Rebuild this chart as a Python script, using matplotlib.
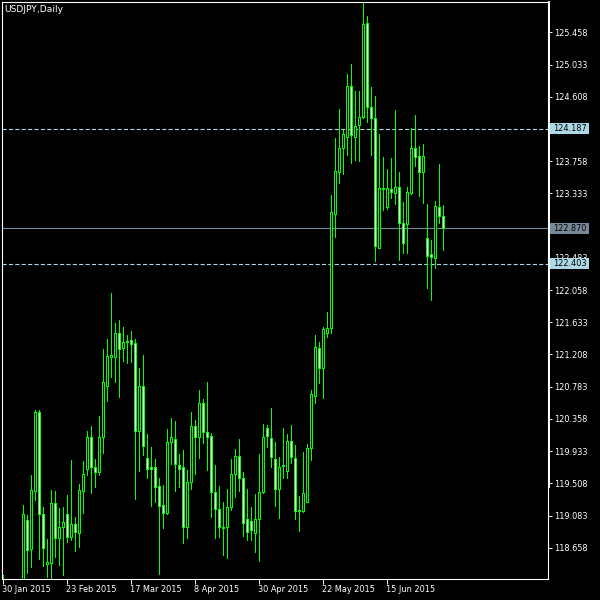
import matplotlib
matplotlib.use("Agg")
import matplotlib.pyplot as plt
from matplotlib.patches import Rectangle
from matplotlib.transforms import blended_transform_factory
import numpy as np
import pandas as pd

# ---------------- data ----------------
chart_title = "USDJPY,Daily"
first_date = "2015-01-30"

opens = [
    118.10, 117.45, 117.60, 117.75, 117.35, 117.55, 119.02, 118.64, 119.41, 120.45,
    119.10, 118.44, 118.46, 119.25, 118.79, 118.93, 119.10, 118.80, 118.97, 118.85,
    119.41, 119.70, 120.12, 119.72, 119.66, 120.12, 120.79, 121.17, 121.17, 121.49,
    121.29, 121.37, 121.40, 121.36, 120.20, 120.79, 119.84, 119.72, 119.72, 119.47,
    119.22, 119.12, 120.05, 120.09, 119.75, 119.72, 118.93, 119.52, 120.26, 120.12,
    120.57, 120.18, 120.13, 119.39, 119.17, 118.93, 118.93, 119.20, 119.63, 119.87,
    119.58, 119.04, 119.01, 118.85, 119.04, 119.39, 120.24, 120.11, 119.83, 119.43,
    119.74, 119.67, 120.07, 119.84, 119.14, 119.14, 119.26, 119.97, 120.66, 121.29,
    121.03, 121.49, 121.56, 123.06, 123.62, 123.93, 124.08, 124.75, 124.08, 124.24,
    124.34, 125.58, 124.47, 124.33, 122.61, 123.40, 123.15, 123.39, 123.34, 123.42,
    122.94, 122.93, 123.34, 123.93, 123.83, 123.62, 122.74, 122.53, 122.48, 123.15,
    123.03,
]
highs = [
    118.30, 117.75, 117.85, 117.95, 117.70, 119.22, 119.09, 119.62, 120.47, 120.47,
    119.20, 118.77, 119.42, 119.41, 119.18, 119.20, 119.35, 119.82, 119.06, 119.50,
    119.80, 120.20, 120.26, 119.83, 120.40, 121.28, 121.41, 122.02, 121.62, 121.66,
    121.57, 121.46, 121.52, 121.41, 121.03, 121.20, 120.16, 119.99, 119.83, 119.58,
    119.49, 120.22, 120.37, 120.33, 119.89, 119.95, 119.68, 120.45, 120.34, 120.74,
    120.62, 120.84, 120.17, 119.75, 119.47, 119.26, 119.43, 119.83, 119.96, 120.09,
    119.66, 119.43, 119.20, 119.37, 119.89, 120.29, 120.28, 120.50, 120.05, 119.85,
    120.24, 120.16, 120.28, 120.01, 119.34, 119.92, 120.03, 120.74, 121.46, 121.37,
    121.57, 121.77, 123.31, 124.06, 124.45, 124.17, 124.91, 125.04, 124.68, 124.68,
    125.84, 125.67, 124.74, 124.62, 124.12, 123.81, 123.65, 123.80, 124.43, 123.62,
    123.22, 123.42, 124.20, 124.37, 123.96, 123.98, 123.19, 122.72, 123.23, 123.72,
    123.18,
]
lows = [
    117.30, 116.85, 117.20, 117.25, 117.15, 117.20, 118.32, 118.40, 119.29, 118.51,
    118.42, 118.27, 118.20, 118.54, 118.43, 118.30, 118.73, 118.76, 118.61, 118.67,
    119.12, 119.62, 119.38, 119.46, 119.62, 119.91, 120.59, 120.91, 120.84, 120.65,
    121.12, 121.10, 121.11, 119.30, 119.67, 119.88, 119.58, 119.21, 119.26, 118.31,
    118.92, 119.10, 119.76, 119.41, 119.46, 118.72, 118.79, 119.43, 119.63, 119.84,
    120.04, 119.68, 119.06, 118.79, 118.80, 118.56, 118.52, 119.16, 119.33, 119.41,
    118.81, 118.76, 118.76, 118.60, 118.48, 119.38, 119.99, 119.72, 119.21, 119.05,
    119.58, 119.58, 119.78, 119.04, 118.88, 119.13, 119.26, 119.82, 120.57, 120.83,
    120.63, 121.44, 121.49, 122.76, 123.47, 123.59, 123.84, 123.73, 123.77, 123.76,
    124.33, 124.27, 123.84, 122.44, 122.61, 123.11, 123.13, 123.27, 123.19, 122.45,
    122.55, 122.55, 123.33, 123.69, 123.30, 123.21, 122.08, 121.93, 122.35, 122.94,
    122.59,
]
closes = [
    117.45, 117.60, 117.75, 117.35, 117.55, 119.10, 118.63, 119.42, 120.45, 119.10,
    118.65, 118.47, 119.25, 118.79, 118.93, 119.00, 118.80, 118.97, 118.87, 119.42,
    119.63, 120.12, 119.72, 119.66, 120.12, 120.84, 121.19, 121.20, 121.49, 121.28,
    121.37, 121.38, 121.35, 120.20, 120.79, 120.00, 119.70, 119.70, 119.46, 119.21,
    119.12, 120.05, 120.12, 119.76, 119.70, 118.93, 119.52, 120.26, 120.12, 120.57,
    120.18, 120.12, 119.39, 119.17, 118.93, 118.92, 119.20, 119.63, 119.87, 119.58,
    118.99, 118.87, 118.89, 119.04, 119.39, 120.12, 120.13, 119.85, 119.43, 119.72,
    119.75, 120.07, 119.85, 119.14, 119.16, 119.38, 119.97, 120.69, 121.31, 121.03,
    121.54, 121.56, 123.09, 123.63, 123.93, 124.12, 124.75, 124.10, 124.22, 124.34,
    125.57, 124.47, 124.33, 122.64, 123.40, 123.39, 123.40, 123.35, 123.42, 122.94,
    122.68, 123.35, 123.93, 123.81, 123.62, 123.83, 122.51, 122.49, 123.17, 123.03,
    122.87,
]

date_labels = ["30 Jan 2015", "23 Feb 2015", "17 Mar 2015", "8 Apr 2015",
               "30 Apr 2015", "22 May 2015", "15 Jun 2015"]
price_ticks = [125.458, 125.033, 124.608, 124.183, 123.758, 123.333, 122.908,
               122.483, 122.058, 121.633, 121.208, 120.783, 120.358, 119.933,
               119.508, 119.083, 118.658]
hidden_tick_labels = [124.183, 122.908]   # fully covered by the price boxes
upper_level = 124.187
lower_level = 122.403
last_price = 122.870
price_range = (118.246, 125.858)

# ---------------- styling ----------------
BG = "black"
CANDLE = "#00ff00"
LEVEL_COL = "#add8e6"
LAST_COL = "#778899"
FONT = "DejaVu Sans"
W, H = 600, 600

plt.rcParams["font.family"] = [FONT]
plt.rcParams["lines.scale_dashes"] = False

fig = plt.figure(figsize=(6, 6), dpi=100, facecolor=BG)
ax = fig.add_axes([2 / W, 21 / H, 546 / W, 577 / H], facecolor=BG)

o = np.array(opens)
h = np.array(highs)
l = np.array(lows)
c = np.array(closes)
idx = np.arange(len(o))
dates = pd.bdate_range(first_date, periods=len(o))

# horizontal level lines
ax.axhline(upper_level, color=LEVEL_COL, lw=0.8, ls=(0, (3.0, 1.6)), zorder=1)
ax.axhline(lower_level, color=LEVEL_COL, lw=0.8, ls=(0, (3.0, 1.6)), zorder=1)
ax.axhline(last_price, color=LAST_COL, lw=0.8, zorder=1)

# candles
ax.vlines(idx, l, h, color=CANDLE, lw=0.72, zorder=2, antialiased=False)
bull = c >= o
fills = np.where(bull, "black", "white")
body_h = np.maximum(np.abs(c - o), 0.004)
ax.bar(idx, body_h, bottom=np.minimum(o, c), width=0.5, color=fills,
       edgecolor=CANDLE, linewidth=0.72, zorder=3, antialiased=False)

ax.set_xlim(-0.125, -0.125 + 546 / 4)
ax.set_ylim(*price_range)

# spines
for s in ax.spines.values():
    s.set_color("white")
    s.set_linewidth(0.8)
ax.plot([1.0015, 1.0015], [(579 - 487) / 577, 1], transform=ax.transAxes,
        color="white", lw=1.4, clip_on=False, zorder=4)

# y axis on the right
ax.yaxis.tick_right()
ax.set_yticks(price_ticks)
ax.set_yticklabels(["" if v in hidden_tick_labels else f"{v:.3f}" for v in price_ticks])
ax.tick_params(axis="y", colors="white", labelcolor="white", labelsize=5.9,
               direction="out", length=3.2, width=0.7, pad=0.8)

# x axis
label_pos = [dates.get_loc(pd.to_datetime(s, format="%d %b %Y")) for s in date_labels]
ax.set_xticks(label_pos)
ax.set_xticklabels(date_labels, ha="left")
ax.tick_params(axis="x", colors="white", labelcolor="white", labelsize=5.9,
               direction="out", length=3.5, width=0.7, pad=0.8)

# price boxes on the right scale
trans = blended_transform_factory(fig.transFigure, ax.transData)
half = 5.5 / 75.8
for val, col in [(upper_level, LEVEL_COL), (last_price, LAST_COL), (lower_level, LEVEL_COL)]:
    ax.add_patch(Rectangle((550 / W, val - half), 39 / W, 2 * half, transform=trans,
                           facecolor=col, edgecolor="none", clip_on=False, zorder=6))
    ax.text(553 / W, val, f"{val:.3f}", transform=trans, color="black",
            fontsize=5.9, va="center", ha="left", zorder=7, clip_on=False)

# title
fig.text(4 / W, 1 - 9 / H, chart_title, color="white", fontsize=6.6,
         va="center", ha="left")

fig.savefig("out.png", dpi=100, facecolor=BG)
